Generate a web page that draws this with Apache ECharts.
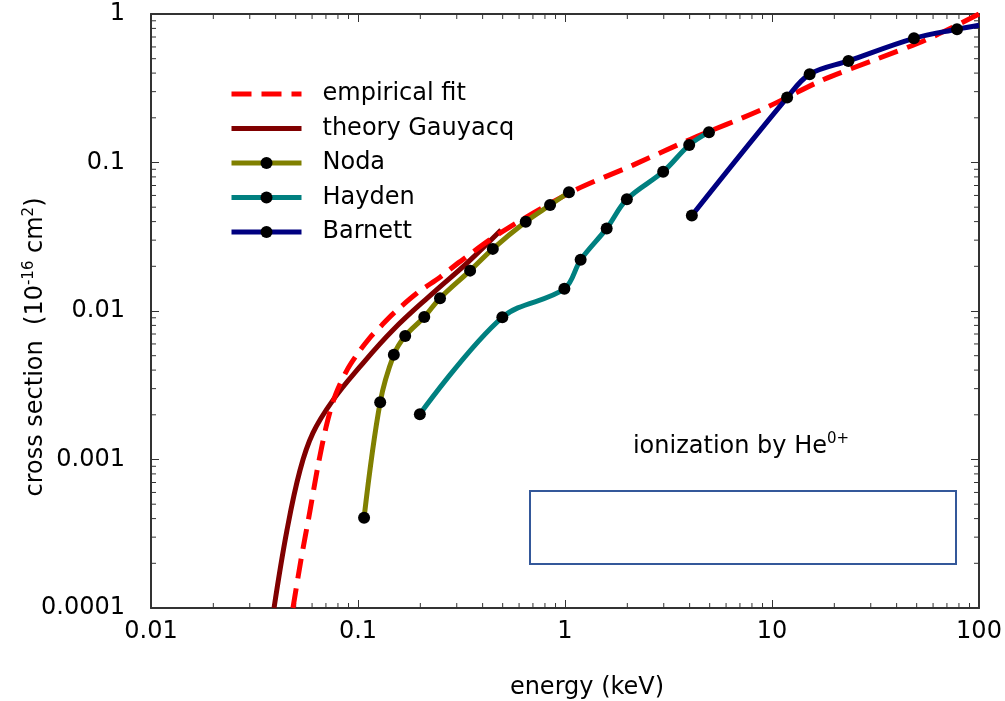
<!DOCTYPE html>
<html>
<head>
<meta charset="utf-8">
<script src="https://cdn.jsdelivr.net/npm/echarts@6/dist/echarts.min.js"></script>
<style>
html,body{margin:0;padding:0;background:#fff;}
#chart{width:1005px;height:701px;}
</style>
</head>
<body>
<div id="chart"></div>
<script>
// ---- data (energy in keV, cross section in 1e-16 cm^2) ----
const fitE   = [0.0485, 0.053, 0.0586, 0.064, 0.0708, 0.078, 0.0885, 0.1, 0.114, 0.13, 0.148, 0.193, 0.249, 0.311, 0.485, 1.09, 2.13, 4.02, 9.05, 17.6, 31.8, 56.1, 100];
const fitS   = [0.0001, 0.00021, 0.00045, 0.0009, 0.00175, 0.00275, 0.004, 0.0052, 0.0066, 0.008, 0.0096, 0.0132, 0.0169, 0.0215, 0.0335, 0.064, 0.096, 0.143, 0.229, 0.36, 0.495, 0.675, 1.0];

const theoryE = [0.0393, 0.0454, 0.0525, 0.0606, 0.0757, 0.102, 0.1476, 0.230, 0.336, 0.491];
const theoryS = [0.0001, 0.000335, 0.00085, 0.00151, 0.00251, 0.0042, 0.00745, 0.0132, 0.021, 0.0351];

const nodaE = [0.107, 0.128, 0.149, 0.169, 0.209, 0.249, 0.348, 0.448, 0.646, 0.847, 1.045];
const nodaS = [0.000406, 0.00243, 0.00508, 0.00679, 0.00912, 0.0122, 0.0187, 0.0262, 0.0399, 0.0517, 0.063];

const haydenE = [0.199, 0.498, 0.993, 1.19, 1.59, 1.99, 2.98, 3.98, 4.96];
const haydenS = [0.00202, 0.00907, 0.0141, 0.0221, 0.036, 0.0565, 0.0867, 0.131, 0.16];

const barnettE = [4.1, 11.83, 15.2, 23.4, 48.5, 78.3, 100];
const barnettS = [0.044, 0.2735, 0.393, 0.483, 0.686, 0.79, 0.84];
const barnettMarked = [true, true, true, true, true, true, false];

const seriesNames = ['empirical fit', 'theory Gauyacq', 'Noda', 'Hayden', 'Barnett'];
const seriesHasMarkers = [false, false, true, true, true];
const xTickValues = [0.01, 0.1, 1, 10, 100];
const xTickLabels = ['0.01', '0.1', '1', '10', '100'];
const yTickValues = [0.0001, 0.001, 0.01, 0.1, 1];
const yTickLabels = ['0.0001', '0.001', '0.01', '0.1', '1'];

const X_MIN = 0.01, X_MAX = 100, Y_MIN = 0.0001, Y_MAX = 1;
const FONT = 'DejaVu Sans';
const AXIS_COLOR = '#333';

// minor tick values (2..9 x each decade)
function minorTicks(lo, hi) {
  const out = [];
  for (let d = lo; d < hi; d *= 10) {
    for (let k = 2; k <= 9; k++) out.push(+(k * d).toPrecision(6));
  }
  return out;
}
const xMinor = minorTicks(X_MIN, X_MAX);
const yMinor = minorTicks(Y_MIN, Y_MAX);

function zip(a, b) { return a.map((v, i) => [v, b[i]]); }
function labelFor(values, labels) {
  return function (v) {
    for (let i = 0; i < values.length; i++) {
      if (Math.abs(Math.log10(v) - Math.log10(values[i])) < 1e-6) return labels[i];
    }
    return '';
  };
}

const chart = echarts.init(document.getElementById('chart'), null, {renderer: 'canvas'});

const baseX = {
  type: 'log', logBase: 10, min: X_MIN, max: X_MAX, gridIndex: 0,
  axisLine: {show: true, lineStyle: {color: AXIS_COLOR, width: 2}},
  axisTick: {show: true, inside: true, length: 8, lineStyle: {color: AXIS_COLOR, width: 1}},
  splitLine: {show: false},
  minorTick: {show: false}
};
const baseY = {
  type: 'log', logBase: 10, min: Y_MIN, max: Y_MAX, gridIndex: 0,
  axisLine: {show: true, lineStyle: {color: AXIS_COLOR, width: 2}},
  axisTick: {show: true, inside: true, length: 8, lineStyle: {color: AXIS_COLOR, width: 1}},
  splitLine: {show: false},
  minorTick: {show: false}
};

const minorLen = 5;
const minorTickSeries = {
  type: 'custom', name: '_xminor', coordinateSystem: 'cartesian2d',
  xAxisIndex: 0, yAxisIndex: 0, silent: true, clip: false, z: 1,
  data: xMinor.map(v => [v, Y_MIN]),
  encode: {x: 0, y: 1},
  renderItem: function (params, api) {
    const v = api.value(0);
    const b = api.coord([v, Y_MIN]);
    const t = api.coord([v, Y_MAX]);
    return {type: 'group', children: [
      {type: 'line', shape: {x1: b[0], y1: b[1], x2: b[0], y2: b[1] - minorLen}, style: {stroke: AXIS_COLOR, lineWidth: 1}},
      {type: 'line', shape: {x1: t[0], y1: t[1], x2: t[0], y2: t[1] + minorLen}, style: {stroke: AXIS_COLOR, lineWidth: 1}}
    ]};
  }
};
const yMinorTickSeries = {
  type: 'custom', name: '_yminor', coordinateSystem: 'cartesian2d',
  xAxisIndex: 0, yAxisIndex: 0, silent: true, clip: false, z: 1,
  data: yMinor.map(v => [X_MIN, v]),
  encode: {x: 0, y: 1},
  renderItem: function (params, api) {
    const v = api.value(1);
    const l = api.coord([X_MIN, v]);
    const r = api.coord([X_MAX, v]);
    return {type: 'group', children: [
      {type: 'line', shape: {x1: l[0], y1: l[1], x2: l[0] + minorLen, y2: l[1]}, style: {stroke: AXIS_COLOR, lineWidth: 1}},
      {type: 'line', shape: {x1: r[0], y1: r[1], x2: r[0] - minorLen, y2: r[1]}, style: {stroke: AXIS_COLOR, lineWidth: 1}}
    ]};
  }
};

const option = {
  animation: false,
  backgroundColor: '#fff',
  textStyle: {fontFamily: FONT},
  grid: {left: 151, top: 14, width: 828, height: 594, containLabel: false},
  xAxis: [
    Object.assign({}, baseX, {
      position: 'bottom',
      axisLabel: {show: true, margin: 12, fontSize: 24, color: '#000', fontFamily: FONT,
        formatter: labelFor(xTickValues, xTickLabels)}
    }),
    Object.assign({}, baseX, {position: 'top', axisLabel: {show: false}})
  ],
  yAxis: [
    Object.assign({}, baseY, {
      position: 'left',
      axisLabel: {show: true, margin: 26, fontSize: 24, color: '#000', fontFamily: FONT,
        formatter: labelFor(yTickValues, yTickLabels)}
    }),
    Object.assign({}, baseY, {position: 'right', axisLabel: {show: false}})
  ],
  legend: {
    data: seriesNames.map((n, i) => seriesHasMarkers[i] ? n : {name: n, itemStyle: {opacity: 0}}),
    orient: 'vertical',
    left: 229, top: 82, padding: 0,
    itemWidth: 70, itemHeight: 15, itemGap: 10.5,
    lineStyle: {width: 5},
    textStyle: {fontSize: 24, fontFamily: FONT, color: '#000', lineHeight: 24, padding: [0, 0, 0, 16]},
    selectedMode: false
  },
  series: [
    minorTickSeries,
    yMinorTickSeries,
    {
      name: seriesNames[1], type: 'line', smooth: 0.4, z: 3,
      data: zip(theoryE, theoryS), symbol: 'none',
      lineStyle: {color: '#800000', width: 5},
      itemStyle: {color: '#800000'}
    },
    {
      name: seriesNames[0], type: 'line', smooth: 0.3, z: 4,
      data: zip(fitE, fitS), symbol: 'none',
      lineStyle: {color: '#ff0000', width: 5, type: [20, 10]},
      itemStyle: {color: '#ff0000'}
    },
    {
      name: seriesNames[2], type: 'line', smooth: 0.35, z: 5,
      data: zip(nodaE, nodaS), symbol: 'circle', symbolSize: 12, showSymbol: true,
      lineStyle: {color: '#808000', width: 5},
      itemStyle: {color: '#000'}
    },
    {
      name: seriesNames[3], type: 'line', smooth: 0.35, z: 5,
      data: zip(haydenE, haydenS), symbol: 'circle', symbolSize: 12, showSymbol: true,
      lineStyle: {color: '#008080', width: 5},
      itemStyle: {color: '#000'}
    },
    {
      name: seriesNames[4], type: 'line', smooth: 0.35, z: 5,
      data: barnettE.map((e, i) => barnettMarked[i]
        ? [e, barnettS[i]]
        : {value: [e, barnettS[i]], symbol: 'none'}),
      symbol: 'circle', symbolSize: 12, showSymbol: true,
      lineStyle: {color: '#000080', width: 5},
      itemStyle: {color: '#000'}
    }
  ],
  graphic: [
    {
      type: 'text', x: 36, y: 347, rotation: Math.PI / 2, z: 10,
      style: {
        text: '{a|cross section  (10}{s|-16}{a| cm}{s|2}{a|)}',
        align: 'center', verticalAlign: 'middle',
        fill: '#000', font: '24px ' + FONT,
        rich: {
          a: {fontSize: 24, fontFamily: FONT, fill: '#000', lineHeight: 28},
          s: {fontSize: 15, fontFamily: FONT, fill: '#000', verticalAlign: 'top', lineHeight: 28}
        }
      }
    },
    {
      type: 'text', x: 587, y: 688, z: 10,
      style: {text: 'energy (keV)', align: 'center', verticalAlign: 'middle',
        fill: '#000', font: '24px ' + FONT}
    },
    {
      type: 'text', x: 741, y: 447, z: 10,
      style: {
        text: '{a|ionization by He}{s|0+}',
        align: 'center', verticalAlign: 'middle',
        fill: '#000', font: '24px ' + FONT,
        rich: {
          a: {fontSize: 24, fontFamily: FONT, fill: '#000', lineHeight: 30},
          s: {fontSize: 15, fontFamily: FONT, fill: '#000', verticalAlign: 'top', lineHeight: 30}
        }
      }
    },
    {
      type: 'rect', z: 10,
      shape: {x: 530, y: 491, width: 426, height: 73},
      style: {fill: 'none', stroke: '#34589a', lineWidth: 2}
    }
  ]
};

chart.setOption(option);
</script>
</body>
</html>
